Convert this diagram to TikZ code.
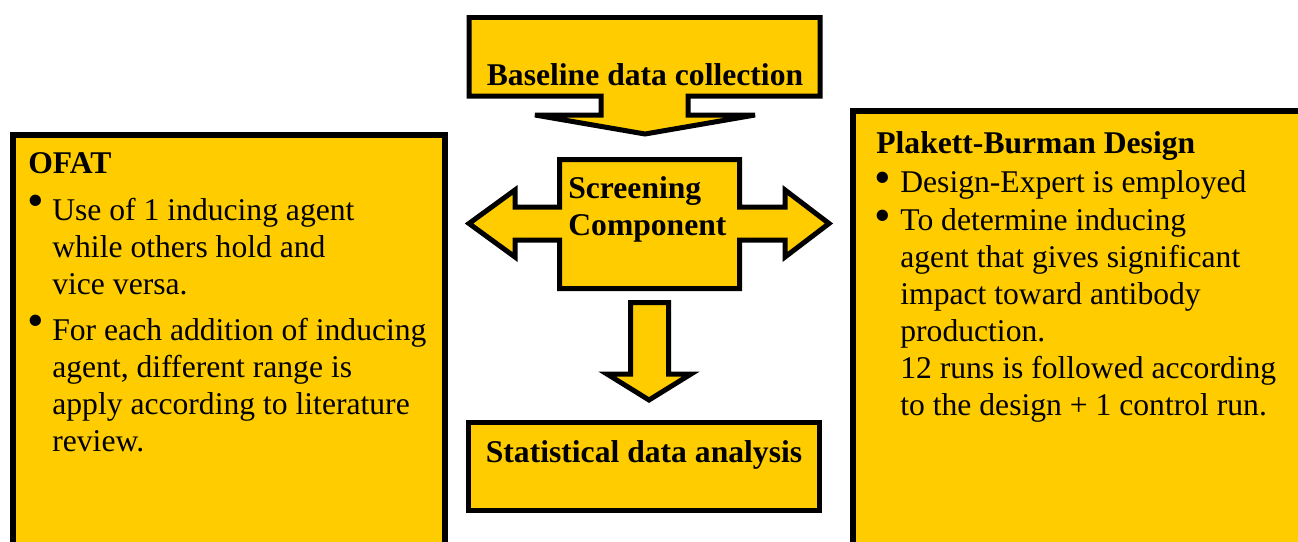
\documentclass[tikz,border=0pt]{standalone}
\usepackage{fontspec}
\setmainfont{Liberation Serif}
\usetikzlibrary{positioning, calc}
\definecolor{boxyellow}{RGB}{255,204,0}
\tikzset{blk/.style={draw=black, fill=boxyellow, line width=0.1cm}}
\tikzset{sidebox/.style={draw=black, fill=boxyellow, line width=0.12cm}}
\tikzset{ttl/.style={font=\fontsize{18}{21}\selectfont\bfseries, inner sep=0pt, align=left}}
\tikzset{txt/.style={font=\fontsize{18}{21}\selectfont, inner sep=0pt, align=left, anchor=base west}}
\tikzset{bul/.style={font=\fontsize{27}{30}\selectfont, inner sep=0pt}}

\begin{document}
\begin{tikzpicture}[x=0.02cm, y=-0.02cm]
      \clip (0,0) rectangle (1298,541);

      \draw[sidebox] (13,135) rectangle (445,580);
      \draw[sidebox] (853,111) rectangle (1320,580);

      \draw[blk] (469,17.5) -- (820,17.5) -- (820,96) -- (688,96) -- (688,115) -- (755,115)
        -- (645,134) -- (535,115) -- (601,115) -- (601,96) -- (469,96) -- cycle;
      \draw[blk] (559.5,159.5) -- (739.5,159.5) -- (739.5,207) -- (785,207) -- (785,190)
        -- (829,223.5) -- (785,257) -- (785,240) -- (739.5,240) -- (739.5,288.5)
        -- (559.5,288.5) -- (559.5,240) -- (515,240) -- (515,257) -- (469,223.5)
        -- (515,190) -- (515,207) -- (559.5,207) -- cycle;
      \draw[blk] (630.5,302.5) -- (668.5,302.5) -- (668.5,374) -- (691,374) -- (649,400)
        -- (607,374) -- (630.5,374) -- cycle;
      \draw[blk] (468.5,422.5) rectangle (819.5,510.5);

      % multi-line nodes: base anchor sits on the last line
      \node[ttl, anchor=base] (base) at (645,85) {Baseline data collection};
      \node[ttl, anchor=base west] (screen) at (568,235) {Screening\\Component};
      \node[ttl, anchor=base] (stat) at (644,462) {Statistical data analysis};

      \node[ttl, anchor=base west] (ofat) at (28,173) {OFAT};
      \node[bul] (b1) at (36,206) {\textbullet};
      \node[txt] (o1) at (52,294) {Use of 1 inducing agent\\while others hold and\\vice versa.};
      \node[bul] (b2) at (36,326) {\textbullet};
      \node[txt] (o2) at (52,451) {For each addition of inducing\\agent, different range is\\apply according to literature\\review.};

      \node[ttl, anchor=base west] (pb) at (876,153) {Plakett-Burman Design};
      \node[bul] (b3) at (883,183) {\textbullet};
      \node[txt] (p1) at (900,192) {Design-Expert is employed};
      \node[bul] (b4) at (883,221) {\textbullet};
      \node[txt] (p2) at (900,415) {To determine inducing\\agent that gives significant\\impact toward antibody\\production.\\12 runs is followed according\\to the design + 1 control run.};
\end{tikzpicture}
\end{document}
